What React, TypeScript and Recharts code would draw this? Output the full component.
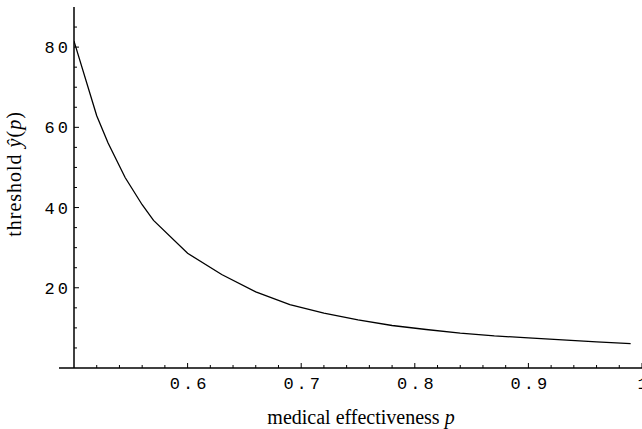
import React from 'react';
import { LineChart, Line, XAxis, YAxis, Label } from 'recharts';

// values
const pValues = [0.5, 0.52, 0.53, 0.545, 0.56, 0.57, 0.6, 0.63, 0.66, 0.69, 0.72, 0.75, 0.78, 0.81, 0.84, 0.87, 0.9, 0.93, 0.96, 0.99];
const thresholdValues = [81.5, 62.9, 56.1, 47.5, 40.7, 36.8, 28.6, 23.3, 19.0, 15.8, 13.7, 12.0, 10.6, 9.6, 8.7, 8.0, 7.5, 7.0, 6.5, 6.1];

const xMajorTicks = [0.6, 0.7, 0.8, 0.9, 1];
const xMinorTicks = [0.52, 0.54, 0.56, 0.58, 0.62, 0.64, 0.66, 0.68, 0.72, 0.74, 0.76, 0.78, 0.82, 0.84, 0.86, 0.88, 0.92, 0.94, 0.96, 0.98];
const yMajorTicks = [20, 40, 60, 80];
const yMinorTicks = [5, 10, 15, 25, 30, 35, 45, 50, 55, 65, 70, 75, 85];

const data = pValues.map((p, i) => ({ p, y: thresholdValues[i] }));

const tickFont = { fontFamily: '"Liberation Mono", monospace', fontSize: 17, letterSpacing: 3 };
const serif = '"Liberation Serif", serif';

const isMajor = (list: number[], v: number) => list.some((m) => Math.abs(m - v) < 1e-6);

const XTick = (props: any) => {
  const { x, y, payload } = props;
  const major = isMajor(xMajorTicks, payload.value);
  return (
    <g>
      <line x1={x} x2={x} y1={y} y2={y - (major ? 5 : 3)} stroke="#000" strokeWidth={1} />
      {major && (
        <text x={x + 2} y={y + 21} textAnchor="middle" fill="#000" style={tickFont}>
          {String(payload.value)}
        </text>
      )}
    </g>
  );
};

const YTick = (props: any) => {
  const { x, y, payload } = props;
  const major = isMajor(yMajorTicks, payload.value);
  return (
    <g>
      <line x1={x} x2={x + (major ? 5 : 3)} y1={y} y2={y} stroke="#000" strokeWidth={1} />
      {major && (
        <text x={x - 3} y={y + 6} textAnchor="end" fill="#000" style={tickFont}>
          {String(payload.value)}
        </text>
      )}
    </g>
  );
};

const XTitle = (props: any) => {
  const { viewBox } = props;
  return (
    <g>
      {/* axis line runs a little past the y axis, like the original */}
      <line x1={viewBox.x - 15} x2={viewBox.x} y1={viewBox.y} y2={viewBox.y} stroke="#000" strokeWidth={1.5} />
      <text x={361} y={424} textAnchor="middle" fill="#000" style={{ fontFamily: serif, fontSize: 20 }}>
        medical effectiveness <tspan fontStyle="italic">p</tspan>
      </text>
    </g>
  );
};

const YTitle = () => (
  <text
    x={21}
    y={174}
    transform="rotate(-90 21 174)"
    textAnchor="middle"
    fill="#000"
    style={{ fontFamily: serif, fontSize: 20, letterSpacing: 1 }}
  >
    threshold <tspan fontStyle="italic">ŷ</tspan>(<tspan fontStyle="italic">p</tspan>)
  </text>
);

export default function App() {
  return (
    <div style={{ position: 'absolute', left: 0, top: 0, background: '#fff' }}>
      <LineChart width={642} height={429} data={data} margin={{ top: 7, right: 0, bottom: 0, left: 0 }}>
        <XAxis
          dataKey="p"
          type="number"
          domain={[0.5, 1]}
          ticks={[...xMinorTicks, ...xMajorTicks].sort((a, b) => a - b)}
          interval={0}
          tickSize={0}
          tickMargin={0}
          tickLine={false}
          tick={<XTick />}
          axisLine={{ stroke: '#000', strokeWidth: 1.5 }}
          height={61}
          allowDataOverflow
        >
          <Label content={<XTitle />} />
        </XAxis>
        <YAxis
          type="number"
          domain={[0, 90]}
          ticks={[...yMinorTicks, ...yMajorTicks].sort((a, b) => a - b)}
          interval={0}
          tickSize={0}
          tickMargin={0}
          tickLine={false}
          tick={<YTick />}
          axisLine={{ stroke: '#000', strokeWidth: 1.5 }}
          width={74}
          allowDataOverflow
        >
          <Label content={<YTitle />} />
        </YAxis>
        <Line
          type="linear"
          dataKey="y"
          stroke="#000"
          strokeWidth={1.3}
          dot={false}
          activeDot={false}
          isAnimationActive={false}
        />
      </LineChart>
    </div>
  );
}
